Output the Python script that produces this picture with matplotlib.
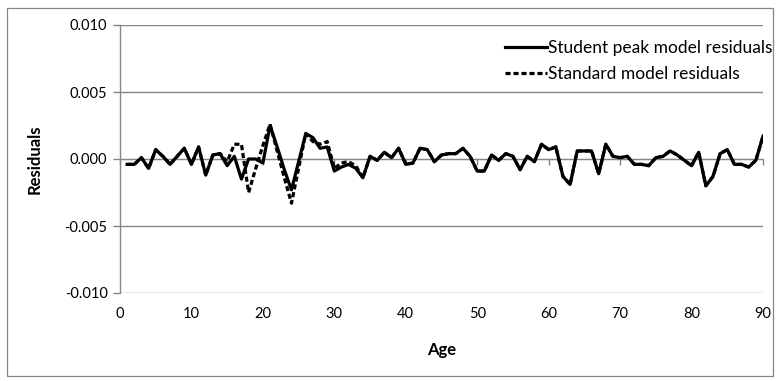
import matplotlib.pyplot as plt
from matplotlib.patches import Rectangle
from matplotlib.ticker import FormatStrFormatter, MultipleLocator, NullFormatter

ages = list(range(1, 91))

student_peak = [
    -0.0004, -0.0004, 0.0001, -0.0007, 0.0007, 0.0002, -0.0004, 0.0002, 0.0008, -0.0004,
    0.0009, -0.0012, 0.0003, 0.0004, -0.0005, 0.0002, -0.0015, 0.0000, 0.0000, -0.0003,
    0.0025, 0.0009, -0.0008, -0.0023, -0.0002, 0.0019, 0.0016, 0.0008, 0.0009, -0.0009,
    -0.0006, -0.0004, -0.0007, -0.0014, 0.0002, -0.0001, 0.0005, 0.0001, 0.0008, -0.0004,
    -0.0003, 0.0008, 0.0007, -0.0002, 0.0003, 0.0004, 0.0004, 0.0008, 0.0002, -0.0009,
    -0.0009, 0.0003, -0.0001, 0.0004, 0.0002, -0.0008, 0.0002, -0.0002, 0.0011, 0.0007,
    0.0009, -0.0013, -0.0019, 0.0006, 0.0006, 0.0006, -0.0011, 0.0011, 0.0002, 0.0001,
    0.0002, -0.0004, -0.0004, -0.0005, 0.0001, 0.0002, 0.0006, 0.0003, -0.0001, -0.0005,
    0.0005, -0.0020, -0.0013, 0.0004, 0.0007, -0.0004, -0.0004, -0.0006, -0.0001, 0.0017,
]

standard = [
    -0.0004, -0.0004, 0.0001, -0.0007, 0.0007, 0.0002, -0.0004, 0.0002, 0.0008, -0.0004,
    0.0009, -0.0012, 0.0003, 0.0004, -0.0002, 0.0011, 0.0011, -0.0025, -0.0007, 0.0010,
    0.0026, 0.0006, -0.0014, -0.0033, -0.0007, 0.0019, 0.0013, 0.0011, 0.0013, -0.0007,
    -0.0003, -0.0002, -0.0005, -0.0014, 0.0002, -0.0001, 0.0005, 0.0001, 0.0008, -0.0004,
    -0.0003, 0.0008, 0.0007, -0.0002, 0.0003, 0.0004, 0.0004, 0.0008, 0.0002, -0.0009,
    -0.0009, 0.0003, -0.0001, 0.0004, 0.0002, -0.0008, 0.0002, -0.0002, 0.0011, 0.0007,
    0.0009, -0.0013, -0.0019, 0.0006, 0.0006, 0.0006, -0.0011, 0.0011, 0.0002, 0.0001,
    0.0002, -0.0004, -0.0004, -0.0005, 0.0001, 0.0002, 0.0006, 0.0003, -0.0001, -0.0005,
    0.0005, -0.0020, -0.0013, 0.0004, 0.0007, -0.0004, -0.0004, -0.0006, -0.0001, 0.0017,
]

grey = "#868686"
plt.rcParams["font.family"] = ["Lato", "DejaVu Sans"]
plt.rcParams["font.size"] = 10

fig = plt.figure(figsize=(7.78, 3.81), dpi=100)
ax = fig.add_axes([120 / 778, 1 - 293 / 381, 643 / 778, 268 / 381])

# chart area border
fig.patches.append(Rectangle((7 / 778, 5 / 381), 766 / 778, 368 / 381,
                             transform=fig.transFigure, fill=False,
                             edgecolor=grey, linewidth=0.9))

ax.plot(ages, student_peak, color="black", linewidth=2.3,
        label="Student peak model residuals", zorder=3)
ax.plot(ages, standard, color="black", linewidth=2.3, dashes=(1.6, 0.9),
        label="Standard model residuals", zorder=4)

ax.set_xlim(0, 90)
ax.set_ylim(-0.010, 0.010)
ax.xaxis.set_major_locator(MultipleLocator(10))
ax.yaxis.set_major_locator(MultipleLocator(0.005))
ax.yaxis.set_major_formatter(FormatStrFormatter("%.3f"))
ax.grid(axis="y", color=grey, linewidth=1.0)
ax.set_axisbelow(True)

for s in ["top", "right", "bottom"]:
    ax.spines[s].set_visible(False)
ax.spines["left"].set_color(grey)
ax.spines["left"].set_linewidth(1.0)
ax.tick_params(axis="y", direction="out", length=5, color=grey, width=1.0, pad=4,
               labelsize=10.5)
ax.tick_params(axis="x", length=0, pad=10, labelsize=10.5)

# horizontal axis crosses at zero, labels stay at the bottom
zero_axis = ax.secondary_xaxis(0.5)
zero_axis.spines["bottom"].set_color(grey)
zero_axis.spines["bottom"].set_linewidth(1.0)
zero_axis.spines["top"].set_color(grey)
zero_axis.xaxis.set_major_locator(MultipleLocator(10))
zero_axis.xaxis.set_major_formatter(NullFormatter())
zero_axis.tick_params(axis="x", direction="in", length=4, color=grey, width=1.0)

ax.set_xlabel("Age", fontweight="bold", fontsize=12, labelpad=15)
ax.set_ylabel("Residuals", fontweight="bold", fontsize=12, labelpad=16)

leg = ax.legend(loc="upper right", bbox_to_anchor=(1 + 7 / 778, 1 - 28 / 381),
                bbox_transform=fig.transFigure, frameon=True, fancybox=False,
                edgecolor="none", framealpha=1.0, handlelength=2.4,
                handletextpad=0.1, borderpad=0.2, labelspacing=0.55, fontsize=12.5)

fig.savefig("out.png", dpi=100)
